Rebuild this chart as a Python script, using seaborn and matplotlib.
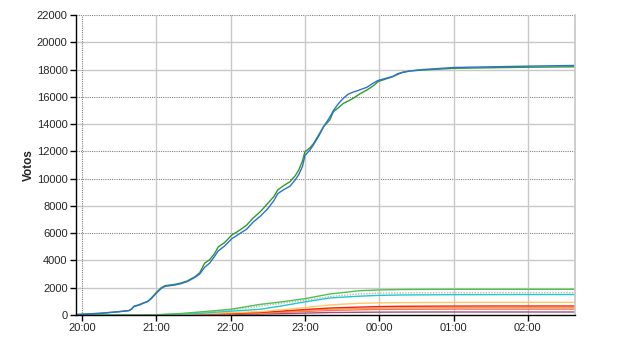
import numpy as np
import pandas as pd
import matplotlib
matplotlib.use("Agg")
import matplotlib.pyplot as plt
import seaborn as sns

# ---- data (minutes after 20:00) ----
main_t = [-5, 0, 15, 30, 38, 40, 42, 46, 50, 53, 56, 60, 64, 67, 75, 80, 85, 88, 91, 95,
          99, 103, 107, 110, 115, 121, 127, 133, 138, 144, 150, 155, 158, 163, 168, 172,
          175, 178, 180, 184, 187, 191, 195, 200, 203, 207, 211, 215, 219, 224, 230, 235,
          239, 245, 251, 255, 259, 265, 275, 284, 300, 330, 360, 398]
green_main = [30, 60, 130, 250, 330, 450, 650, 750, 900, 1000, 1250, 1650, 2000, 2150, 2250,
              2350, 2500, 2650, 2800, 3100, 3800, 4050, 4500, 5000, 5300, 5870, 6200, 6600,
              7100, 7580, 8190, 8700, 9170, 9500, 9780, 10200, 10630, 11300, 11980, 12250,
              12590, 13200, 13810, 14300, 14910, 15200, 15520, 15700, 15890, 16200, 16500,
              16800, 17110, 17300, 17480, 17650, 17800, 17900, 17960, 18010, 18090, 18130,
              18170, 18200]
blue_main = [20, 50, 120, 240, 320, 420, 620, 720, 880, 980, 1200, 1600, 1950, 2100, 2200,
             2300, 2450, 2600, 2750, 3000, 3500, 3800, 4300, 4700, 5050, 5600, 5950, 6300,
             6800, 7250, 7800, 8400, 8900, 9200, 9450, 9900, 10300, 10900, 11700, 12100,
             12500, 13100, 13800, 14500, 15000, 15500, 15900, 16200, 16350, 16500, 16700,
             17000, 17200, 17350, 17500, 17700, 17800, 17900, 18000, 18050, 18150, 18200,
             18250, 18300]

small_t = [-5, 50, 60, 80, 100, 120, 144, 160, 180, 200, 224, 240, 260, 280, 300, 330, 360, 398]
green_small = [0, 0, 20, 110, 260, 420, 780, 950, 1200, 1540, 1780, 1840, 1870, 1880, 1885, 1885, 1885, 1885]
gray_small = [0, 0, 15, 90, 220, 360, 650, 850, 1080, 1350, 1550, 1600, 1620, 1630, 1635, 1640, 1640, 1640]
cyan_small = [0, 0, 10, 60, 160, 280, 420, 650, 960, 1250, 1380, 1440, 1470, 1480, 1490, 1495, 1500, 1500]
gold_small = [0, 0, 5, 40, 100, 170, 250, 380, 540, 740, 860, 890, 910, 920, 925, 930, 930, 930]
red_small = [0, 0, 3, 25, 70, 120, 190, 280, 400, 510, 580, 620, 640, 650, 655, 660, 660, 660]
orange_small = [0, 0, 3, 20, 55, 100, 160, 240, 330, 420, 480, 510, 525, 530, 535, 535, 535, 535]
salmon_small = [0, 0, 2, 15, 45, 80, 130, 190, 260, 330, 380, 410, 420, 425, 430, 430, 430, 430]
purple_small = [0, 0, 1, 8, 25, 45, 70, 100, 140, 180, 200, 210, 215, 218, 220, 220, 220, 220]

x_tick_pos = [0, 60, 120, 180, 240, 300, 360]
x_tick_labels = ["20:00", "21:00", "22:00", "23:00", "00:00", "01:00", "02:00"]
y_ticks = list(range(0, 22001, 2000))
dotted_y = [6000, 10000, 12000, 16000, 22000]

series = {
    "s_purple": (small_t, purple_small),
    "s_salmon": (small_t, salmon_small),
    "s_orange": (small_t, orange_small),
    "s_red": (small_t, red_small),
    "s_gold": (small_t, gold_small),
    "s_cyan": (small_t, cyan_small),
    "s_gray": (small_t, gray_small),
    "s_green": (small_t, green_small),
    "m_green": (main_t, green_main),
    "m_blue": (main_t, blue_main),
}
palette = {
    "s_purple": "#A0507A",
    "s_salmon": "#F07070",
    "s_orange": "#FFA030",
    "s_red": "#F02020",
    "s_gold": "#FFC860",
    "s_cyan": "#20C8D0",
    "s_gray": "#B8B8B8",
    "s_green": "#50C050",
    "m_green": "#2E9A2E",
    "m_blue": "#2F6FD0",
}
rows = []
for name, (t, v) in series.items():
    for ti, vi in zip(t, v):
        rows.append({"t": ti, "v": vi, "s": name})
df = pd.DataFrame(rows)

sns.set_theme(style="white")
plt.rcParams["font.family"] = ["Liberation Sans", "DejaVu Sans"]

fig = plt.figure(figsize=(6.4, 3.5), dpi=100)
ax = fig.add_axes([76 / 640, 35 / 350, (575 - 76) / 640, 300 / 350])

# grid
for yv in y_ticks[1:]:
    if yv in dotted_y:
        ax.axhline(yv, color="#808080", lw=0.8, ls=(0, (1, 1)), zorder=0)
    else:
        ax.axhline(yv, color="#C8C8C8", lw=1.0, zorder=0)
for i, xv in enumerate(x_tick_pos):
    if i == 0:
        ax.axvline(xv, color="#808080", lw=0.8, ls=(0, (1, 1)), zorder=0)
    else:
        ax.axvline(xv, color="#C8C8C8", lw=1.0, zorder=0)

sns.lineplot(data=df, x="t", y="v", hue="s", palette=palette, lw=1.0,
             legend=False, ax=ax, estimator=None, sort=True)
for line in ax.get_lines():
    if line.get_color() in ("#B8B8B8",):
        line.set_linestyle((0, (1, 1)))

ax.set_xlim(-4.85, 398)
ax.set_ylim(0, 22000)
ax.set_xticks(x_tick_pos)
ax.set_xticklabels(x_tick_labels)
ax.set_yticks(y_ticks)
ax.set_xlabel("")
ax.set_ylabel("Votos", fontsize=8.5, fontweight="bold", labelpad=1)
ax.tick_params(axis="both", which="major", direction="out", length=4, width=1,
               color="black", labelsize=8, pad=2, bottom=True, left=True)
for s in ["top"]:
    ax.spines[s].set_visible(False)
ax.spines["right"].set_color("#C8C8C8")
ax.spines["left"].set_color("black")
ax.spines["bottom"].set_color("black")
ax.spines["left"].set_linewidth(1.0)
ax.spines["bottom"].set_linewidth(1.0)

fig.savefig("out.png", dpi=100)
